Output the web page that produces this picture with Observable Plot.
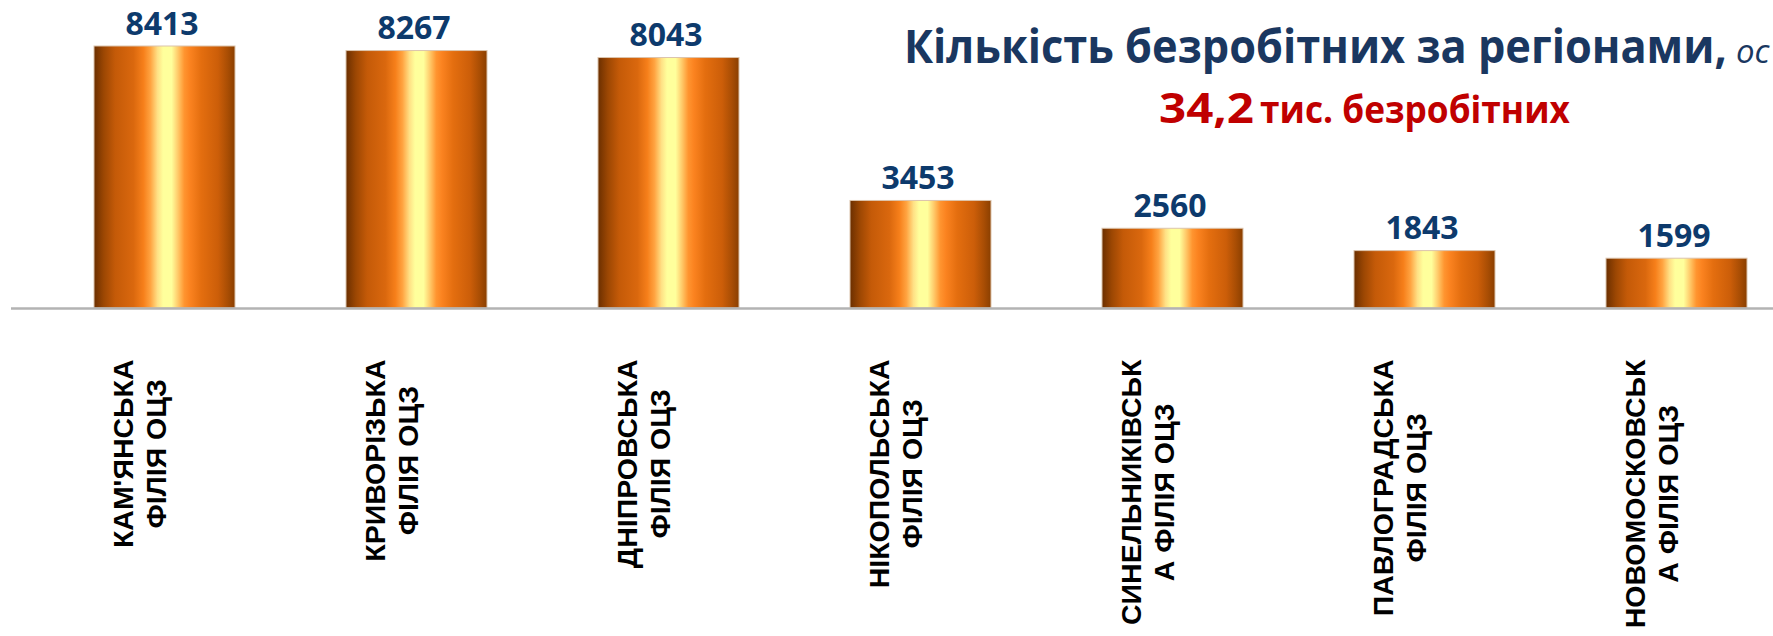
<!DOCTYPE html>
<html>
<head>
<meta charset="utf-8">
<script src="https://cdn.jsdelivr.net/npm/d3@7"></script>
<script src="https://cdn.jsdelivr.net/npm/@observablehq/plot@0.6"></script>
<style>
  html, body { margin: 0; padding: 0; background: #ffffff; overflow: hidden; }
  #chart svg { display: block; }
</style>
</head>
<body>
<div id="chart"></div>
<script>
// ---- data ----
const categories = [
  "КАМ'ЯНСЬКА\nФІЛІЯ ОЦЗ",
  "КРИВОРІЗЬКА\nФІЛІЯ ОЦЗ",
  "ДНІПРОВСЬКА\nФІЛІЯ ОЦЗ",
  "НІКОПОЛЬСЬКА\nФІЛІЯ ОЦЗ",
  "СИНЕЛЬНИКІВСЬК\nА ФІЛІЯ ОЦЗ",
  "ПАВЛОГРАДСЬКА\nФІЛІЯ ОЦЗ",
  "НОВОМОСКОВСЬК\nА ФІЛІЯ ОЦЗ"
];
const values = [8413, 8267, 8043, 3453, 2560, 1843, 1599];
const titleText = "Кількість безробітних за регіонами,";
const titleTail = "ос";
const totalValue = "34,2";
const totalUnit = "тис. безробітних";

const data = categories.map((c, i) => ({cat: c, value: values[i]}));

// ---- styling ----
const gradientStops = [
  [0.00, "#6b2f00"], [0.07, "#9c4703"], [0.15, "#c45a08"], [0.28, "#da680e"],
  [0.35, "#f67f1a"], [0.40, "#ffa340"], [0.45, "#ffe085"], [0.49, "#ffff9c"],
  [0.55, "#ffff9c"], [0.59, "#ffd070"], [0.64, "#ff9530"], [0.68, "#fb8320"],
  [0.76, "#e46e0f"], [0.88, "#cc5e09"], [0.95, "#a84d04"], [1.00, "#8a3f00"]
];

const labelFontSize = 28.5;
const ctx = document.createElement("canvas").getContext("2d");
const measure = (str, font) => { ctx.font = font; return ctx.measureText(str).width; };
const longestLine = s => d3.max(s.split("\n"), l => measure(l, `bold ${labelFontSize}px "Liberation Sans"`));

const gradientDefs = () => {
  const defs = d3.create("svg:defs");
  const lg = defs.append("linearGradient")
    .attr("id", "barGrad").attr("x1", 0).attr("x2", 1).attr("y1", 0).attr("y2", 0);
  gradientStops.forEach(([o, c]) => lg.append("stop").attr("offset", o).attr("stop-color", c));
  return defs.node();
};

function fittedText(g, str, x, y, {size, weight = "normal", style = "normal", fill, width}) {
  const natural = measure(str, `${style} ${weight} ${size}px "Open Sans"`);
  const sx = width ? width / natural : 1;
  g.append("text")
    .attr("transform", `translate(${x},${y}) scale(${sx},1)`)
    .attr("text-anchor", "start")
    .attr("font-family", "Open Sans").attr("font-weight", weight).attr("font-style", style)
    .attr("font-size", size).attr("fill", fill)
    .text(str);
}

const titleMark = () => {
  const g = d3.create("svg:g");
  const navy = "#1a3760", red = "#c00000";
  fittedText(g, titleText, 904, 63, {size: 47, weight: "bold", fill: navy, width: 823});
  fittedText(g, titleTail, 1736, 63, {size: 33, style: "italic", fill: navy});
  fittedText(g, totalValue, 1159, 123, {size: 42, weight: "bold", fill: red, width: 95});
  fittedText(g, totalUnit, 1260, 123, {size: 38, weight: "bold", fill: red, width: 310});
  return g.node();
};

const labelMarks = data.map(d => Plot.text([d], {
  x: "cat",
  text: "cat",
  frameAnchor: "bottom",
  rotate: -90,
  textAnchor: "middle",
  lineAnchor: "middle",
  lineHeight: 1.175,
  dx: -26,
  dy: 51 + longestLine(d.cat) / 2,
  fontFamily: "Liberation Sans",
  fontWeight: "bold",
  fontSize: labelFontSize,
  fill: "#000000"
}));

const chart = Plot.plot({
  width: 1773,
  height: 636,
  marginTop: 46,
  marginBottom: 328,
  marginLeft: 11,
  marginRight: 0,
  x: {domain: categories, range: [35.5, 1804.2], paddingInner: 0.442, paddingOuter: 0.221, axis: null},
  y: {domain: [0, d3.max(values)], axis: null},
  marks: [
    gradientDefs,
    Plot.barY(data, {x: "cat", y: "value", fill: "url(#barGrad)", stroke: "#dcc4ac", strokeWidth: 1}),
    Plot.ruleY([0], {stroke: "#b3b3b3", strokeWidth: 2.5}),
    Plot.text(data, {
      x: "cat", y: "value", text: d => String(d.value),
      lineAnchor: "bottom", dy: -12, dx: -3,
      fill: "#0d3a6c", fontFamily: "Open Sans", fontWeight: "bold", fontSize: 32
    }),
    ...labelMarks,
    titleMark
  ]
});
document.getElementById("chart").appendChild(chart);
</script>
</body>
</html>
